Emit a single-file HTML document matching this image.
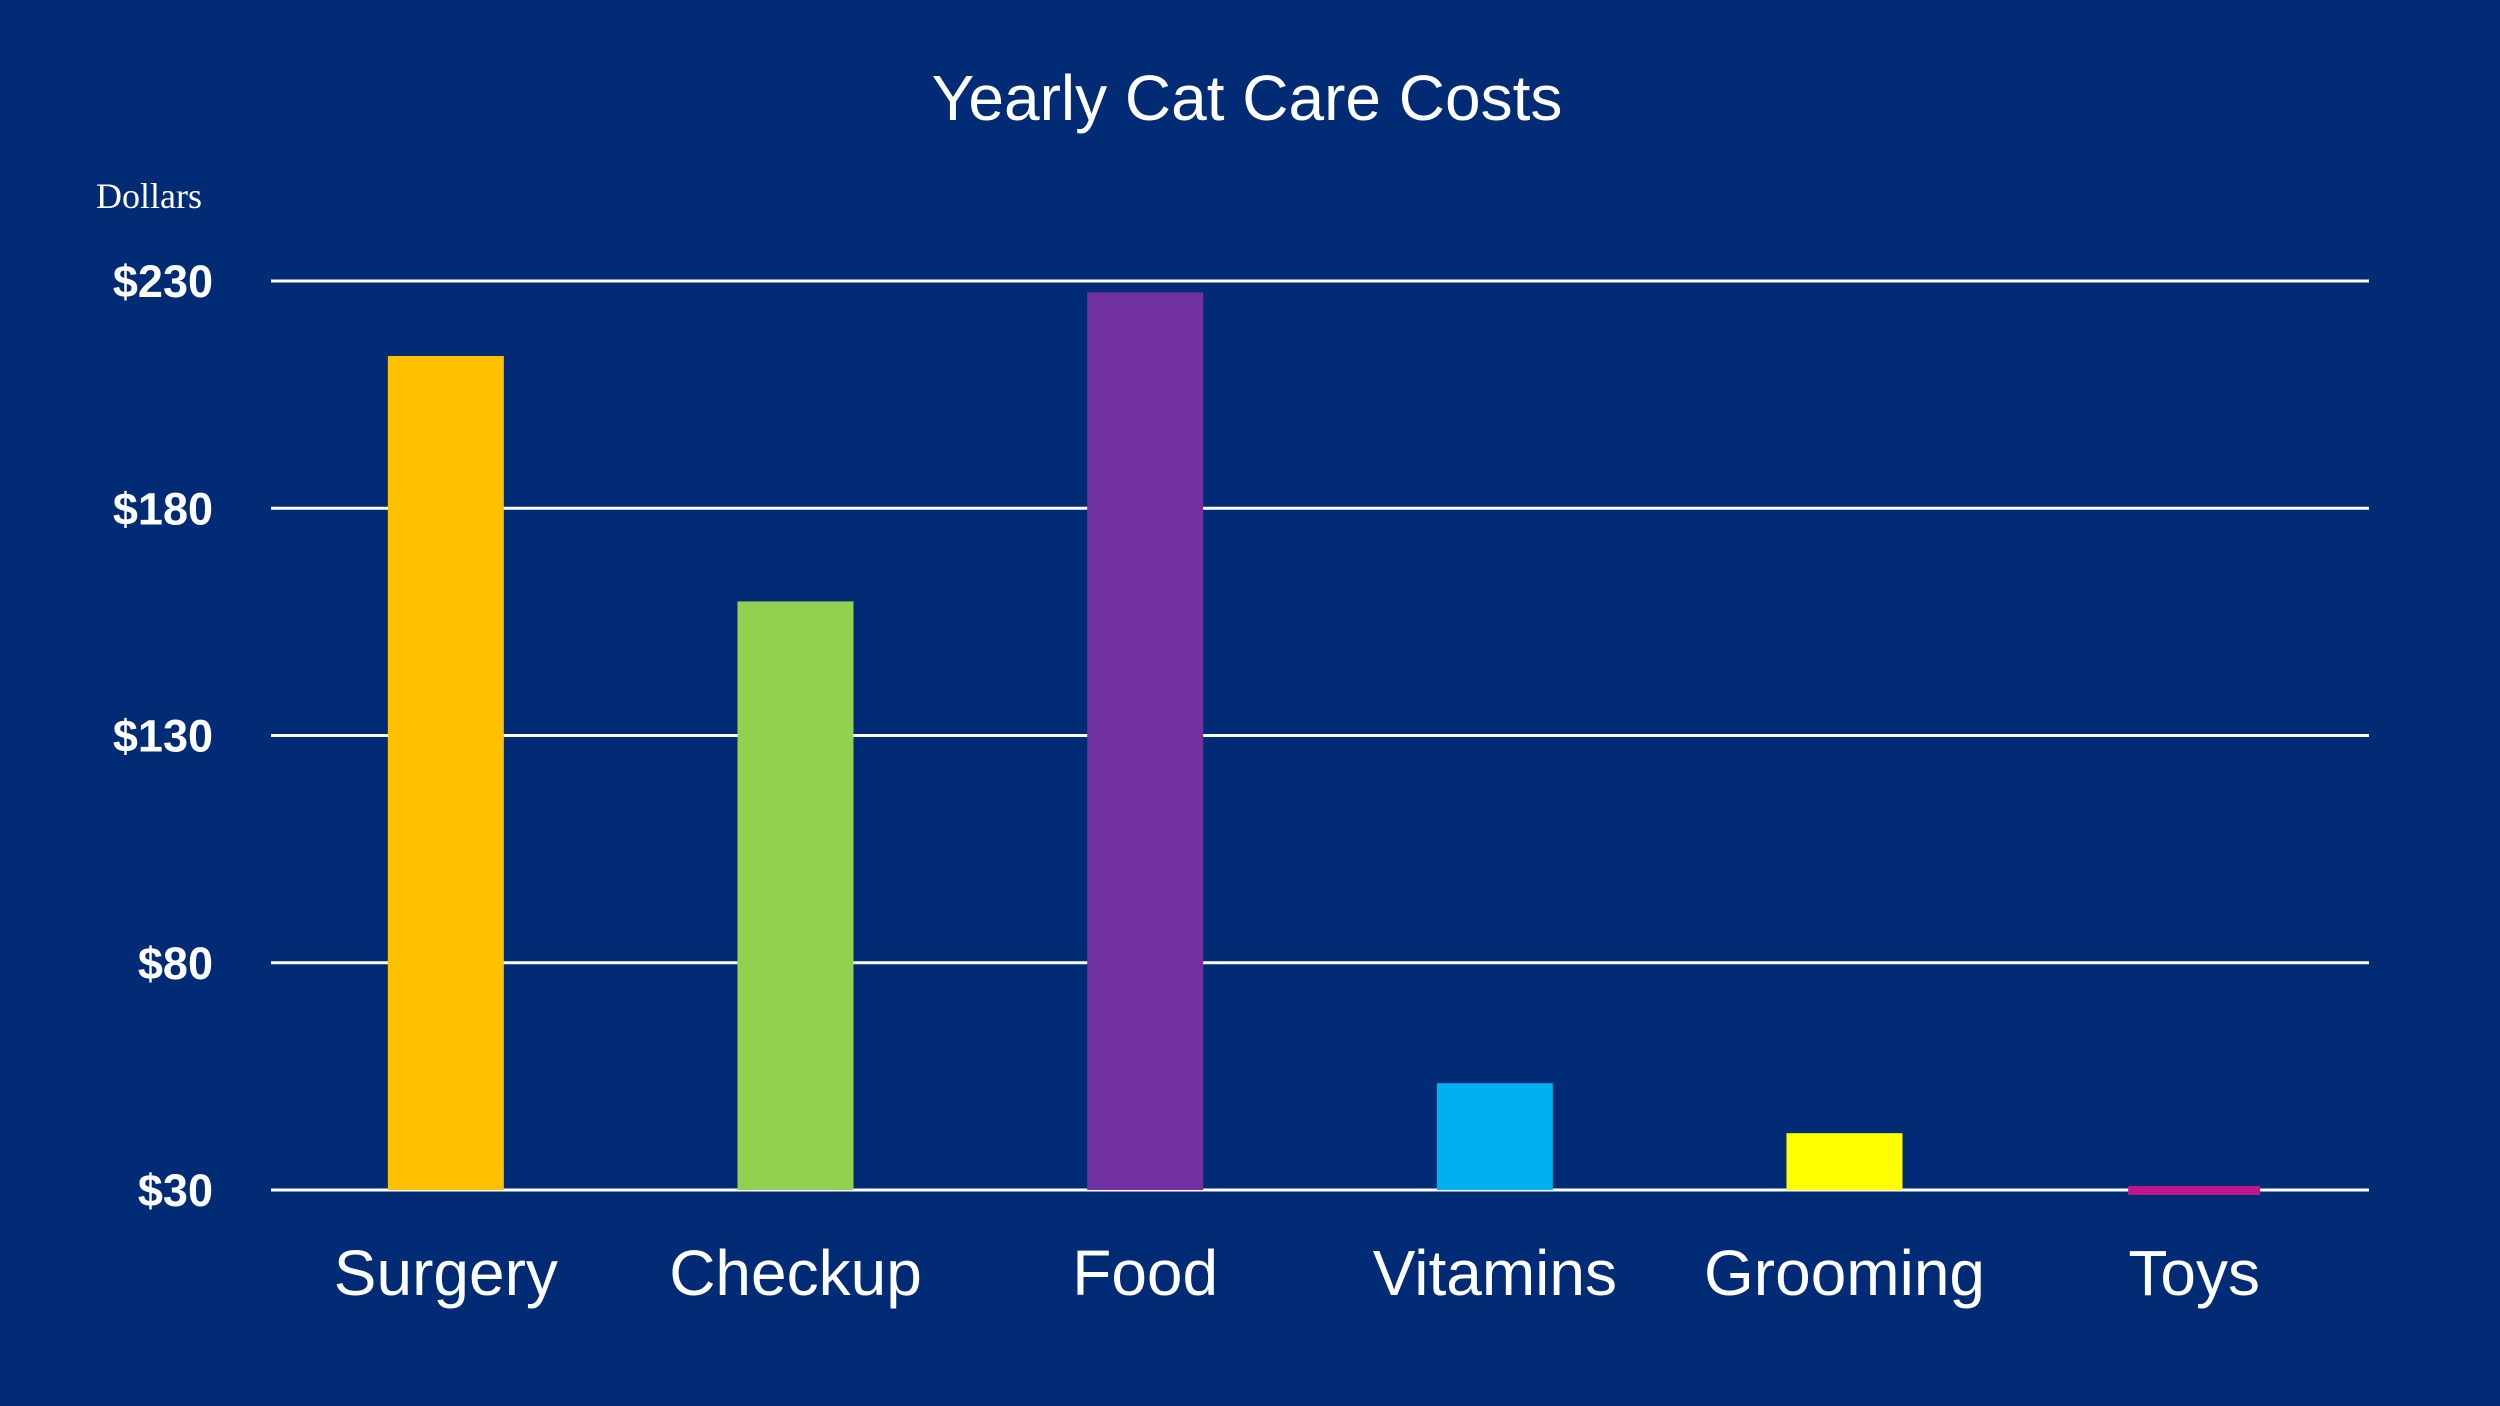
<!DOCTYPE html>
<html><head><meta charset="utf-8"><style>
html,body{margin:0;padding:0;background:#022b76;}
svg{display:block}
</style></head><body>
<svg id="chart" width="2500" height="1406" viewBox="0 0 2500 1406" xmlns="http://www.w3.org/2000/svg">
<rect x="0" y="0" width="2500" height="1406" fill="#022b76"/>
<text x="1247" y="120" text-anchor="middle" fill="#ffffff" font-family="Liberation Sans, sans-serif" font-size="64">Yearly Cat Care Costs</text>
<text x="96" y="208" fill="#ffffff" font-family="Liberation Serif, serif" font-size="36">Dollars</text>
<g id="grid"></g><g id="bars"></g><g id="labels"></g>
</svg>
<script>
const categories = ["Surgery","Checkup","Food","Vitamins","Grooming","Toys"];
const values = [213.5,159.5,227.5,53.5,42.5,30.8];
const colors = ["#ffc000","#92d050","#7030a0","#00b0f0","#ffff00","#c0168c"];
const ticks = [30,80,130,180,230];
const tickLabels = ["$30","$80","$130","$180","$230"];
const NS="http://www.w3.org/2000/svg";
const x0=271,x1=2369,yTop=281,yBot=1190,vMin=30,vMax=230;
const y=v=>yBot-(v-vMin)/(vMax-vMin)*(yBot-yTop);
const band=(x1-x0)/categories.length;
const xc=i=>x0+band*(i+0.5);
const bw=116;
const grid=document.getElementById('grid'),bars=document.getElementById('bars'),labels=document.getElementById('labels');
ticks.forEach((t,i)=>{
  const l=document.createElementNS(NS,'line');
  
  
  l.setAttribute('x1',x0);l.setAttribute('x2',x1);l.setAttribute('y1',y(t));l.setAttribute('y2',y(t));
  l.setAttribute('stroke','#ffffff');l.setAttribute('stroke-width','3');
  grid.appendChild(l);
  const tx=document.createElementNS(NS,'text');
  
  
  tx.setAttribute('x',213);tx.setAttribute('y',y(t)+16);
  tx.setAttribute('text-anchor','end');tx.setAttribute('fill','#ffffff');
  tx.setAttribute('font-family','Liberation Sans, sans-serif');tx.setAttribute('font-size','45');tx.setAttribute('font-weight','bold');
  tx.textContent=tickLabels[i];
  labels.appendChild(tx);
});
categories.forEach((c,i)=>{
  const r=document.createElementNS(NS,'rect');
  
  
  const last = i===categories.length-1;
  const w = last ? 132 : bw;
  const top=y(values[i]);
  let h=yBot-top;
  if(last){ r.setAttribute('y',yBot-4); h=9; } else { r.setAttribute('y',top); }
  r.setAttribute('x',xc(i)-w/2);
  r.setAttribute('width',w);r.setAttribute('height',h);
  r.setAttribute('fill',colors[i]);
  bars.appendChild(r);
  const tx=document.createElementNS(NS,'text');
  
  
  tx.setAttribute('x',xc(i));tx.setAttribute('y',1295);
  tx.setAttribute('text-anchor','middle');tx.setAttribute('fill','#ffffff');
  tx.setAttribute('font-family','Liberation Sans, sans-serif');tx.setAttribute('font-size','64');
  tx.textContent=c;
  labels.appendChild(tx);
});
</script>
</body></html>
